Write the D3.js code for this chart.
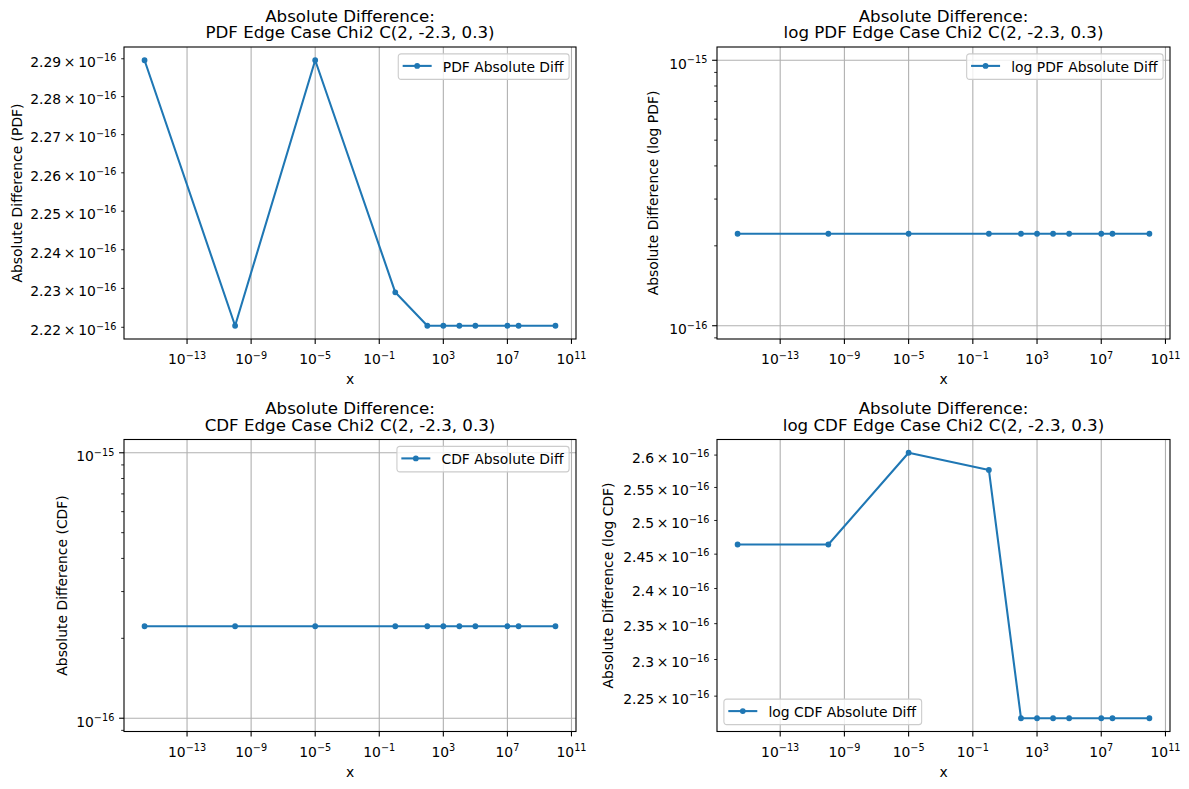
<!DOCTYPE html>
<html>
<head>
<meta charset="utf-8">
<script src="https://cdn.jsdelivr.net/npm/d3@7"></script>
<style>
  body { margin: 0; background: #fff; }
  svg { font-family: "DejaVu Sans", sans-serif; }
</style>
</head>
<body>
<div id="chart"></div>
<script>
// x positions (same for all four panels)
const xValues = [2.220446e-16, 1e-10, 1e-5, 1, 1e2, 1e3, 1e4, 1e5, 1e7, 5e7, 1e10];

// series
const pdfDiff = [2.2896e-16, 2.2204e-16, 2.2896e-16, 2.2290e-16, 2.2204e-16, 2.2204e-16, 2.2204e-16, 2.2204e-16, 2.2204e-16, 2.2204e-16, 2.2204e-16];
const logPdfDiff = [2.2204e-16, 2.2204e-16, 2.2204e-16, 2.2204e-16, 2.2204e-16, 2.2204e-16, 2.2204e-16, 2.2204e-16, 2.2204e-16, 2.2204e-16, 2.2204e-16];
const cdfDiff = [2.2204e-16, 2.2204e-16, 2.2204e-16, 2.2204e-16, 2.2204e-16, 2.2204e-16, 2.2204e-16, 2.2204e-16, 2.2204e-16, 2.2204e-16, 2.2204e-16];
const logCdfDiff = [2.4642e-16, 2.4642e-16, 2.6036e-16, 2.5770e-16, 2.2204e-16, 2.2204e-16, 2.2204e-16, 2.2204e-16, 2.2204e-16, 2.2204e-16, 2.2204e-16];

// ticks
const xTicks = [1e-13, 1e-9, 1e-5, 1e-1, 1e3, 1e7, 1e11];
const xTickExp = ["\u221213", "\u22129", "\u22125", "\u22121", "3", "7", "11"];
const pdfYTicks = [2.22e-16, 2.23e-16, 2.24e-16, 2.25e-16, 2.26e-16, 2.27e-16, 2.28e-16, 2.29e-16];
const pdfYLabels = ["2.22", "2.23", "2.24", "2.25", "2.26", "2.27", "2.28", "2.29"];
const logCdfYTicks = [2.25e-16, 2.3e-16, 2.35e-16, 2.4e-16, 2.45e-16, 2.5e-16, 2.55e-16, 2.6e-16];
const logCdfYLabels = ["2.25", "2.3", "2.35", "2.4", "2.45", "2.5", "2.55", "2.6"];
const decadeTicks = [1e-16, 1e-15];
const decadeExp = ["\u221216", "\u221215"];
const decadeMinor = [9e-17, 2e-16, 3e-16, 4e-16, 5e-16, 6e-16, 7e-16, 8e-16, 9e-16];

const color = "#1f77b4";
const W = 1189, H = 789;
const svg = d3.select("#chart").append("svg").attr("width", W).attr("height", H);

// log domain with matplotlib style 5% margins
function logDomain(vals) {
    let lo = Math.log10(d3.min(vals)), hi = Math.log10(d3.max(vals));
    if (hi - lo < 1e-9) { lo = Math.floor(lo); hi = lo + 1; }
    const m = (hi - lo) * 0.05;
    return [Math.pow(10, lo - m), Math.pow(10, hi + m)];
}

function supLabel(sel, base, exp) {
    sel.append("tspan").text(base);
    sel.append("tspan").attr("dy", -5.5).attr("font-size", 9.7).text(exp);
}

function panel(cfg) {
    const { left, top, width, height } = cfg;
    const g = svg.append("g").attr("transform", `translate(${left},${top})`);

    const x = d3.scaleLog().domain(logDomain(xValues)).range([0, width]);
    const y = d3.scaleLog().domain(logDomain(cfg.values)).range([height, 0]);

    // grid
    g.selectAll(".vgrid").data(xTicks.filter(t => x(t) <= width)).enter().append("line")
        .attr("x1", d => x(d)).attr("x2", d => x(d)).attr("y1", 0).attr("y2", height)
        .attr("stroke", "#b0b0b0").attr("stroke-width", 1.1);
    g.selectAll(".hgrid").data(cfg.yMajor || []).enter().append("line")
        .attr("x1", 0).attr("x2", width).attr("y1", d => y(d)).attr("y2", d => y(d))
        .attr("stroke", "#b0b0b0").attr("stroke-width", 1.1);

    // x ticks
    xTicks.forEach((t, i) => {
        const px = x(t);
        g.append("line").attr("x1", px).attr("x2", px).attr("y1", height).attr("y2", height + 4.9)
            .attr("stroke", "#000").attr("stroke-width", 1.1);
        const tx = g.append("text").attr("x", px).attr("y", height + 25)
            .attr("text-anchor", "middle").attr("font-size", 13.9).attr("fill", "#000");
        supLabel(tx, "10", xTickExp[i]);
    });

    // y ticks
    (cfg.yMajor || []).forEach((t, i) => {
        const py = y(t);
        g.append("line").attr("x1", -4.9).attr("x2", 0).attr("y1", py).attr("y2", py)
            .attr("stroke", "#000").attr("stroke-width", 1.1);
        const ty = g.append("text").attr("x", -9.7).attr("y", py + 8.3)
            .attr("text-anchor", "end").attr("font-size", 13.9).attr("fill", "#000");
        supLabel(ty, "10", cfg.yMajorExp[i]);
    });
    (cfg.yMinor || []).filter(t => y(t) >= 0 && y(t) <= height).forEach(t => {
        const py = y(t);
        g.append("line").attr("x1", -2.8).attr("x2", 0).attr("y1", py).attr("y2", py)
            .attr("stroke", "#000").attr("stroke-width", 0.85);
    });
    (cfg.yLabelled || []).forEach((t, i) => {
        const py = y(t);
        g.append("line").attr("x1", -2.8).attr("x2", 0).attr("y1", py).attr("y2", py)
            .attr("stroke", "#000").attr("stroke-width", 0.85);
        const ty = g.append("text").attr("x", -7.6).attr("y", py + 7.8)
            .attr("text-anchor", "end").attr("font-size", 13.9).attr("fill", "#000");
        supLabel(ty, cfg.yLabels[i] + "\u2009\u00d7\u200910", "\u221216");
    });

    // line + markers
    const pts = xValues.map((v, i) => ({ x: v, y: cfg.values[i] }));
    g.append("path").datum(pts)
        .attr("fill", "none").attr("stroke", color).attr("stroke-width", 2.08)
        .attr("stroke-linejoin", "round")
        .attr("d", d3.line().x(d => x(d.x)).y(d => y(d.y)));
    g.selectAll(".pt").data(pts).enter().append("circle")
        .attr("cx", d => x(d.x)).attr("cy", d => y(d.y)).attr("r", 2.2)
        .attr("fill", color).attr("stroke", color).attr("stroke-width", 1.4);

    // frame
    g.append("rect").attr("width", width).attr("height", height)
        .attr("fill", "none").attr("stroke", "#000").attr("stroke-width", 1.1);

    // title (two lines in one text element)
    const cx = width / 2;
    const tt = g.append("text").attr("text-anchor", "middle").attr("font-size", 16.67);
    tt.append("tspan").attr("x", cx).attr("y", -25.3).text("Absolute Difference:");
    tt.append("tspan").attr("x", cx).attr("y", -8.7).text(cfg.title);

    // axis labels
    g.append("text").attr("x", cx).attr("y", height + 45).attr("text-anchor", "middle")
        .attr("font-size", 13.9).text("x");
    g.append("text")
        .attr("transform", `translate(${cfg.ylabelX - left},${height / 2}) rotate(-90)`)
        .attr("dy", "0.35em").attr("text-anchor", "middle")
        .attr("font-size", 13.9).text(cfg.ylabel);

    // legend
    const lg = g.append("g");
    const box = lg.append("rect").attr("rx", 2.8).attr("ry", 2.8)
        .attr("fill", "#fff").attr("fill-opacity", 0.8)
        .attr("stroke", "#cccccc").attr("stroke-width", 1.1);
    const lt = lg.append("text").attr("font-size", 13.9).attr("x", 44.5).attr("y", 18)
        .text(cfg.legend);
    const tw = lt.node().getComputedTextLength();
    const bw = 44.5 + tw + 5.6, bh = 25.5;
    box.attr("width", bw).attr("height", bh);
    lg.append("line").attr("x1", 4.4).attr("x2", 33.4).attr("y1", 12).attr("y2", 12)
        .attr("stroke", color).attr("stroke-width", 2.08);
    lg.append("circle").attr("cx", 18.9).attr("cy", 12).attr("r", 2.2)
        .attr("fill", color).attr("stroke", color).attr("stroke-width", 1.4);
    const lx = cfg.legendPos === "ur" ? width - 6.9 - bw : 6.9;
    const ly = cfg.legendPos === "ur" ? 6.9 : height - 6.9 - bh;
    lg.attr("transform", `translate(${lx},${ly})`);
}

panel({
    left: 124, top: 47, width: 452, height: 292,
    title: "PDF Edge Case Chi2 C(2, -2.3, 0.3)",
    ylabel: "Absolute Difference (PDF)", ylabelX: 17,
    values: pdfDiff, legend: "PDF Absolute Diff", legendPos: "ur",
    yLabelled: pdfYTicks, yLabels: pdfYLabels
});
panel({
    left: 717, top: 47, width: 453, height: 292,
    title: "log PDF Edge Case Chi2 C(2, -2.3, 0.3)",
    ylabel: "Absolute Difference (log PDF)", ylabelX: 653,
    values: logPdfDiff, legend: "log PDF Absolute Diff", legendPos: "ur",
    yMajor: decadeTicks, yMajorExp: decadeExp, yMinor: decadeMinor
});
panel({
    left: 124, top: 439.5, width: 452, height: 292,
    title: "CDF Edge Case Chi2 C(2, -2.3, 0.3)",
    ylabel: "Absolute Difference (CDF)", ylabelX: 62,
    values: cdfDiff, legend: "CDF Absolute Diff", legendPos: "ur",
    yMajor: decadeTicks, yMajorExp: decadeExp, yMinor: decadeMinor
});
panel({
    left: 717, top: 439.5, width: 453, height: 292,
    title: "log CDF Edge Case Chi2 C(2, -2.3, 0.3)",
    ylabel: "Absolute Difference (log CDF)", ylabelX: 608,
    values: logCdfDiff, legend: "log CDF Absolute Diff", legendPos: "ll",
    yLabelled: logCdfYTicks, yLabels: logCdfYLabels
});
</script>
</body>
</html>
